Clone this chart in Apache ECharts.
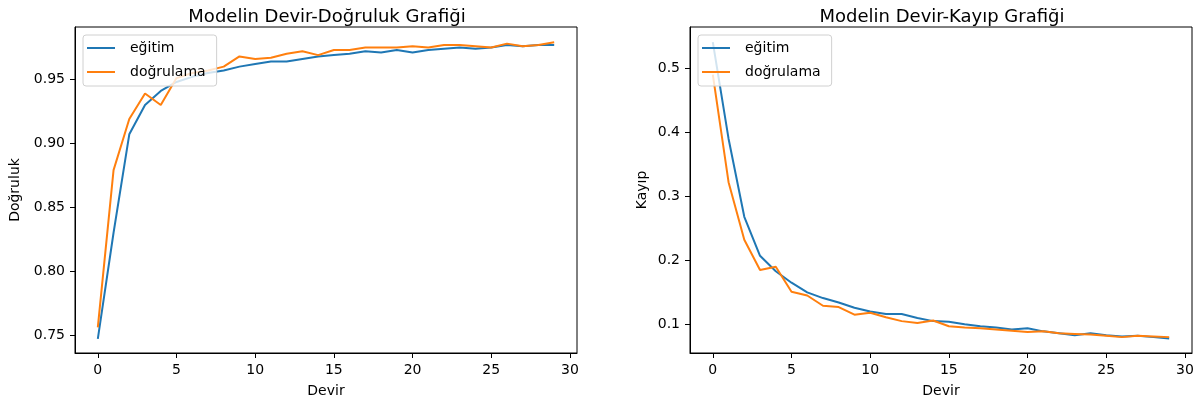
<!doctype html>
<html lang="tr">
<head>
<meta charset="UTF-8">
<title>Modelin Devir Grafikleri</title>
<script src="https://cdn.jsdelivr.net/npm/echarts@6/dist/echarts.min.js"></script>
<style>
  html, body { margin: 0; padding: 0; background: #fff; }
  #main { width: 1202px; height: 407px; }
</style>
</head>
<body>
<div id="main"></div>
<script>
// devir (epoch) numaralari
var devir = [0, 1, 2, 3, 4, 5, 6, 7, 8, 9, 10, 11, 12, 13, 14, 15, 16, 17, 18, 19, 20, 21, 22, 23, 24, 25, 26, 27, 28, 29];

// dogruluk (accuracy)
var egitimAcc = [0.747, 0.830, 0.907, 0.930, 0.941, 0.948, 0.952, 0.955, 0.957, 0.960,
                 0.962, 0.964, 0.964, 0.966, 0.968, 0.969, 0.970, 0.972, 0.971, 0.973,
                 0.971, 0.973, 0.974, 0.975, 0.974, 0.975, 0.977, 0.976, 0.977, 0.977];
var dogrulamaAcc = [0.756, 0.879, 0.919, 0.939, 0.930, 0.951, 0.955, 0.957, 0.960, 0.968,
                    0.966, 0.967, 0.970, 0.972, 0.969, 0.973, 0.973, 0.975, 0.975, 0.975,
                    0.976, 0.975, 0.977, 0.977, 0.976, 0.975, 0.978, 0.976, 0.977, 0.979];

// kayip (loss)
var egitimLoss = [0.541, 0.390, 0.268, 0.207, 0.183, 0.165, 0.150, 0.141, 0.134, 0.126,
                  0.120, 0.116, 0.116, 0.110, 0.105, 0.104, 0.100, 0.097, 0.095, 0.092,
                  0.094, 0.089, 0.086, 0.083, 0.086, 0.083, 0.081, 0.082, 0.080, 0.078];
var dogrulamaLoss = [0.490, 0.322, 0.232, 0.185, 0.190, 0.151, 0.145, 0.129, 0.127, 0.115,
                     0.118, 0.111, 0.105, 0.102, 0.106, 0.097, 0.095, 0.094, 0.092, 0.090,
                     0.088, 0.089, 0.086, 0.085, 0.084, 0.082, 0.080, 0.082, 0.081, 0.080];

var xTicks = [0, 5, 10, 15, 20, 25, 30];
var accTicks = [0.75, 0.80, 0.85, 0.90, 0.95];
var lossTicks = [0.1, 0.2, 0.3, 0.4, 0.5];

var FONT = 'DejaVu Sans';
var BLUE = '#1f77b4';
var ORANGE = '#ff7f0e';

function pairs(xs, ys) {
    return xs.map(function (x, i) { return [x, ys[i]]; });
}

function xAxisFor(gi) {
    return {
        type: 'value', gridIndex: gi,
        min: -1.45, max: 30.45,
        name: 'Devir', nameLocation: 'middle', nameGap: 31,
        nameTextStyle: { fontFamily: FONT, fontSize: 14, color: '#000' },
        splitLine: { show: false },
        axisLine: { show: true, onZero: false, lineStyle: { color: '#000', width: 1 } },
        axisTick: { show: true, inside: false, length: 5, lineStyle: { color: '#000', width: 1 }, customValues: xTicks },
        axisLabel: { fontFamily: FONT, fontSize: 14, color: '#000', margin: 10, customValues: xTicks }
    };
}

function yAxisFor(gi, name, min, max, ticks, digits, gap) {
    return {
        type: 'value', gridIndex: gi,
        min: min, max: max,
        name: name, nameLocation: 'middle', nameGap: gap,
        nameTextStyle: { fontFamily: FONT, fontSize: 14, color: '#000' },
        splitLine: { show: false },
        axisLine: { show: true, onZero: false, lineStyle: { color: '#000', width: 1 } },
        axisTick: { show: true, inside: false, length: 5, lineStyle: { color: '#000', width: 1 }, customValues: ticks },
        axisLabel: {
            fontFamily: FONT, fontSize: 14, color: '#000', margin: 10, customValues: ticks,
            formatter: function (v) { return v.toFixed(digits); }
        }
    };
}

function legendFor(left) {
    return {
        left: left, top: 35, orient: 'vertical',
        data: ['eğitim', 'doğrulama'],
        icon: 'rect', itemWidth: 28, itemHeight: 2, itemGap: 8,
        padding: [5, 11, 6, 4],
        backgroundColor: 'rgba(255,255,255,0.8)',
        borderColor: '#d0d0d0', borderWidth: 1, borderRadius: 3,
        textStyle: { fontFamily: FONT, fontSize: 14, color: '#000', lineHeight: 16, padding: [0, 0, 0, 10] }
    };
}

function lineSeries(name, color, gi, data) {
    return {
        name: name, type: 'line', xAxisIndex: gi, yAxisIndex: gi,
        data: data, showSymbol: false, symbol: 'none',
        lineStyle: { color: color, width: 2 },
        itemStyle: { color: color }
    };
}

var myChart = echarts.init(document.getElementById('main'), null, { renderer: 'canvas' });

var option = {
    animation: false,
    backgroundColor: '#fff',
    title: [
        { text: 'Modelin Devir-Doğruluk Grafiği', left: 322, top: 3, textAlign: 'center',
          textStyle: { fontFamily: FONT, fontSize: 18, fontWeight: 'normal', color: '#000' } },
        { text: 'Modelin Devir-Kayıp Grafiği', left: 937, top: 3, textAlign: 'center',
          textStyle: { fontFamily: FONT, fontSize: 18, fontWeight: 'normal', color: '#000' } }
    ],
    legend: [legendFor(83), legendFor(698)],
    grid: [
        { left: 75, top: 27, width: 502, height: 326, show: true, borderColor: '#000', borderWidth: 1, backgroundColor: 'transparent' },
        { left: 690, top: 27, width: 502, height: 326, show: true, borderColor: '#000', borderWidth: 1, backgroundColor: 'transparent' }
    ],
    xAxis: [xAxisFor(0), xAxisFor(1)],
    yAxis: [
        yAxisFor(0, 'Doğruluk', 0.7359, 0.991, accTicks, 2, 53),
        yAxisFor(1, 'Kayıp', 0.0552, 0.5645, lossTicks, 1, 41)
    ],
    series: [
        lineSeries('eğitim', BLUE, 0, pairs(devir, egitimAcc)),
        lineSeries('doğrulama', ORANGE, 0, pairs(devir, dogrulamaAcc)),
        lineSeries('eğitim', BLUE, 1, pairs(devir, egitimLoss)),
        lineSeries('doğrulama', ORANGE, 1, pairs(devir, dogrulamaLoss))
    ]
};

myChart.setOption(option);
</script>
</body>
</html>
